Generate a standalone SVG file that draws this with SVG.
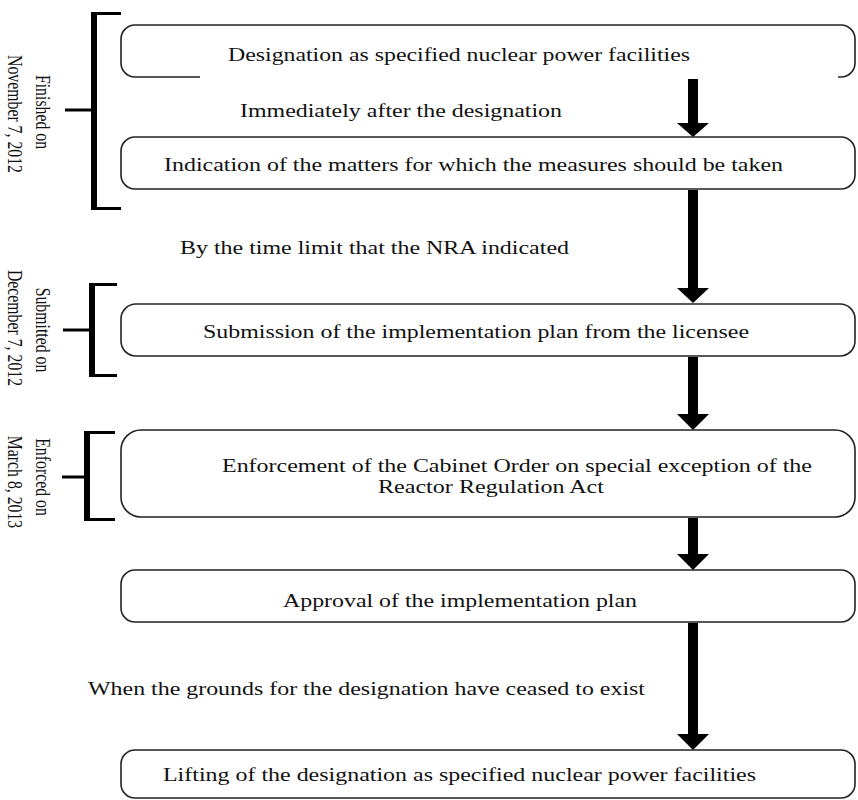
<svg xmlns="http://www.w3.org/2000/svg" width="858" height="800" viewBox="0 0 858 800">
<style>
.box{fill:#fff;stroke:#222;stroke-width:1.6}
.t{font-family:"Liberation Serif","Times New Roman",serif;font-size:18px;fill:#111}
.r{font-family:"Liberation Serif","Times New Roman",serif;font-size:15.8px;fill:#111}
.bv{stroke:#000;stroke-width:6;fill:none}
.bh{stroke:#000;stroke-width:3;fill:none}
.arrow{fill:#000}
</style>
<rect width="858" height="800" fill="#fff"/>
<g id="connectors">
<path class="arrow" d="M688,79 H698 V123 H709 L693,137 L677,123 H688 Z"/>
<path class="arrow" d="M688,190 H698 V288 H709 L693,303 L677,288 H688 Z"/>
<path class="arrow" d="M688,357 H698 V414 H709 L693,430 L677,414 H688 Z"/>
<path class="arrow" d="M688,518 H698 V554 H709 L693,570 L677,554 H688 Z"/>
<path class="arrow" d="M688,623 H698 V734 H709 L693,750 L677,734 H688 Z"/>
</g>
<g id="label-immediately"><text class="t" x="240" y="117" textLength="322" lengthAdjust="spacingAndGlyphs">Immediately after the designation</text></g>
<g id="label-timelimit"><text class="t" x="180" y="254" textLength="389" lengthAdjust="spacingAndGlyphs">By the time limit that the NRA indicated</text></g>
<g id="label-grounds"><text class="t" x="88" y="695" textLength="557" lengthAdjust="spacingAndGlyphs">When the grounds for the designation have ceased to exist</text></g>
<g id="node-designation">
<path class="box" style="fill:none" d="M200,77 H135 A14,14 0 0 1 121,63 V39 A14,14 0 0 1 135,25 H841 A14,14 0 0 1 855,39 V63 A14,14 0 0 1 841,77 H838"/>
<text class="t" x="228" y="61" textLength="462" lengthAdjust="spacingAndGlyphs">Designation as specified nuclear power facilities</text>
</g>
<g id="node-indication">
<rect class="box" x="121" y="137" width="734" height="52" rx="14"/>
<text class="t" x="164" y="171" textLength="619" lengthAdjust="spacingAndGlyphs">Indication of the matters for which the measures should be taken</text>
</g>
<g id="node-submission">
<rect class="box" x="121" y="304" width="734" height="52" rx="15"/>
<text class="t" x="203" y="338" textLength="546" lengthAdjust="spacingAndGlyphs">Submission of the implementation plan from the licensee</text>
</g>
<g id="node-enforcement">
<rect class="box" x="121" y="430" width="734" height="87" rx="20"/>
<text class="t" x="222" y="472" textLength="590" lengthAdjust="spacingAndGlyphs">Enforcement of the Cabinet Order on special exception of the</text>
<text class="t" x="378" y="493" textLength="226" lengthAdjust="spacingAndGlyphs">Reactor Regulation Act</text>
</g>
<g id="node-approval">
<rect class="box" x="121" y="570" width="734" height="52" rx="14"/>
<text class="t" x="283" y="607" textLength="354" lengthAdjust="spacingAndGlyphs">Approval of the implementation plan</text>
</g>
<g id="node-lifting">
<rect class="box" x="121" y="750" width="734" height="48" rx="14"/>
<text class="t" x="163" y="781" textLength="593" lengthAdjust="spacingAndGlyphs">Lifting of the designation as specified nuclear power facilities</text>
</g>
<g id="bracket-finished">
<path class="bv" d="M94,12 V210"/>
<path class="bh" d="M94,13.5 H121 M94,208.5 H121 M65,110 H94"/>
<text class="r" text-anchor="middle" transform="translate(36,112) scale(1.33,1) rotate(90)">Finished on</text>
<text class="r" text-anchor="middle" transform="translate(8,114) scale(1.33,1) rotate(90)">November 7, 2012</text>
</g>
<g id="bracket-submitted">
<path class="bv" d="M92,283 V377"/>
<path class="bh" d="M92,284.5 H117 M92,375.5 H117 M63,330 H92"/>
<text class="r" text-anchor="middle" transform="translate(36,330) scale(1.33,1) rotate(90)">Submitted on</text>
<text class="r" text-anchor="middle" transform="translate(8,328) scale(1.33,1) rotate(90)">December 7, 2012</text>
</g>
<g id="bracket-enforced">
<path class="bv" d="M87,431 V521"/>
<path class="bh" d="M87,432.5 H115 M87,519.5 H115 M62,477 H87"/>
<text class="r" text-anchor="middle" transform="translate(36,477) scale(1.33,1) rotate(90)">Enforced on</text>
<text class="r" text-anchor="middle" transform="translate(8,482) scale(1.33,1) rotate(90)">March 8, 2013</text>
</g>
</svg>
